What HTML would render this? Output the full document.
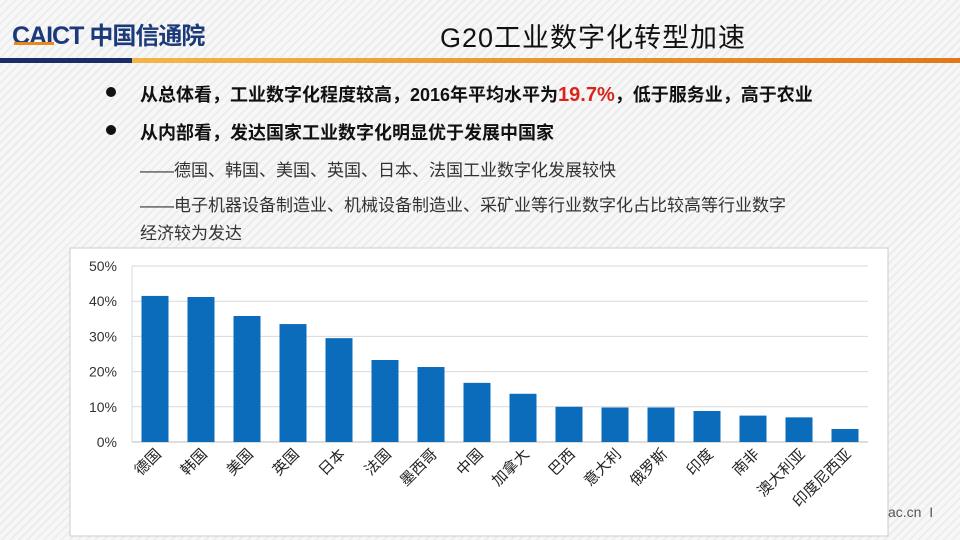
<!DOCTYPE html>
<html><head><meta charset="utf-8"><style>
body{margin:0;width:960px;height:540px;overflow:hidden;font-family:"Liberation Sans","Noto Sans CJK SC",sans-serif;
background:repeating-linear-gradient(135deg,#f7f7f7 0 4px,#ececec 4px 6px);position:relative}
.abs{position:absolute}
.t{font-size:18px;color:#111;white-space:nowrap}
.b{font-weight:bold}
.sub{font-size:17px;color:#333;white-space:nowrap}
</style></head><body>
<div class="abs" style="left:12px;top:16px;font-size:25px;font-weight:bold;color:#1b3a7a;letter-spacing:-1px">CAICT <span style="font-size:24px">中国信通院</span></div>
<div class="abs" style="left:14px;top:42px;width:40px;height:3px;background:#e88a1a"></div>
<div class="abs" style="left:440px;top:16px;font-size:27px;color:#111;letter-spacing:1px">G20工业数字化转型加速</div>
<div class="abs" style="left:0;top:58px;width:132px;height:5px;background:#1a2d6b"></div>
<div class="abs" style="left:132px;top:58px;width:828px;height:5px;background:linear-gradient(90deg,#f2b54a,#e0781a)"></div>
<div class="abs" style="left:106px;top:87px;width:10px;height:10px;border-radius:50%;background:#111"></div>
<div class="abs t b" style="left:140px;top:81px">从总体看，工业数字化程度较高，2016年平均水平为<span style="color:#d9261c;font-size:20px">19.7%</span>，低于服务业，高于农业</div>
<div class="abs" style="left:106px;top:125px;width:10px;height:10px;border-radius:50%;background:#111"></div>
<div class="abs t b" style="left:140px;top:119px">从内部看，发达国家工业数字化明显优于发展中国家</div>
<div class="abs sub" style="left:140px;top:156px">——德国、韩国、美国、英国、日本、法国工业数字化发展较快</div>
<div class="abs sub" style="left:140px;top:192px;line-height:28px">——电子机器设备制造业、机械设备制造业、采矿业等行业数字化占比较高等行业数字<br>经济较为发达</div>
<div class="abs" style="left:888px;top:504px;font-size:14px;color:#555">ac.cn &nbsp;I</div>
<svg class="abs" style="left:0;top:0" width="960" height="540">
<rect x="70" y="248" width="818" height="288" fill="#fff" stroke="#ccc"/>
<g id="g"></g>
</svg>
<script>
const categories=["德国","韩国","美国","英国","日本","法国","墨西哥","中国","加拿大","巴西","意大利","俄罗斯","印度","南非","澳大利亚","印度尼西亚"];
const values=[41.5,41.2,35.8,33.5,29.5,23.3,21.3,16.8,13.7,10,9.8,9.8,8.8,7.5,7,3.7];
const ticks=[0,10,20,30,40,50];
const NS="http://www.w3.org/2000/svg",g=document.getElementById('g');
const x0=132,bw=46,y0=442,ppu=3.52;
const X=i=>x0+bw*i+bw/2, Y=v=>y0-v*ppu;
function el(t,a){const e=document.createElementNS(NS,t);for(const k in a)e.setAttribute(k,a[k]);g.appendChild(e);return e;}
ticks.forEach(t=>{
 const l=el('line',{x1:x0,x2:x0+bw*categories.length,y1:Y(t),y2:Y(t),stroke:t?'#d9d9d9':'#bbb'});
 
 
 const tx=el('text',{x:117,y:Y(t)+5,'text-anchor':'end','font-size':14,fill:'#333'});tx.textContent=t+'%';
 
 
});
const ax=el('line',{x1:x0,x2:x0,y1:Y(50),y2:y0,stroke:'#d9d9d9'});


categories.forEach((c,i)=>{
 const r=el('rect',{x:X(i)-13.5,y:Y(values[i]),width:27,height:values[i]*ppu,fill:'#0b6cbc'});
 
 
 const tx=el('text',{x:X(i)+7,y:455,'text-anchor':'end','font-size':15,fill:'#222',transform:`rotate(-45 ${X(i)+7} 455)`});
 tx.textContent=c;
 
 
});
</script>
</body></html>
